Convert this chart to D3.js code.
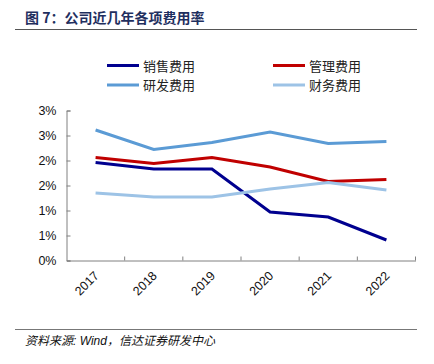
<!DOCTYPE html>
<html><head><meta charset="utf-8">
<script src="https://cdn.jsdelivr.net/npm/d3@7"></script>
<style>body{margin:0;background:#fff}svg{display:block}</style>
</head><body><svg id="c" width="434" height="364"></svg>
<script>
const years = ["2017","2018","2019","2020","2021","2022"];
const sales = [1.96,1.83,1.83,0.97,0.87,0.41];
const admin = [2.06,1.94,2.06,1.87,1.58,1.62];
const rnd = [2.61,2.22,2.36,2.57,2.34,2.38];
const fin = [1.35,1.27,1.27,1.43,1.56,1.41];
const yTicks = [0,0.5,1,1.5,2,2.5,3];
const seriesNames = ["销售费用","管理费用","研发费用","财务费用"];
const colors = ["#00008F","#C00000","#5B9BD5","#9DC3E6"];
const seriesData = [sales, admin, rnd, fin];

const svg = d3.select("#c");
const font = "'Liberation Sans', Arial, 'Noto Sans CJK SC', sans-serif";
const pL = 66.5, pR = 415.5, pT = 110.5, pB = 260.5;

// title
svg.append("text").attr("x",25).attr("y",23).attr("font-family","'Noto Sans CJK SC', sans-serif")
  .attr("font-weight","bold").attr("font-size",14).attr("fill","#1F2F5F").text("图 7：公司近几年各项费用率");
svg.append("line").attr("x1",15).attr("x2",417).attr("y1",29.5).attr("y2",29.5).attr("stroke","#555").attr("stroke-width",1.2);

const x = d3.scaleBand().domain(years).range([pL,pR]);
const y = d3.scaleLinear().domain([0,3]).range([pB,pT]);

// legend
const lg = [[107,65.5],[273,65.5],[107,85],[273,85]];
seriesNames.forEach((n,i)=>{
  const g = svg.append("g").attr("transform",`translate(${lg[i][0]},${lg[i][1]})`);
  g.append("line").attr("x1",0).attr("x2",32).attr("stroke",colors[i]).attr("stroke-width",3);
  g.append("text").attr("x",36).attr("y",5).attr("font-family","'Noto Sans CJK SC', sans-serif")
    .attr("font-size",13).attr("fill","#222").text(n);
});

// y axis
const ya = d3.axisLeft(y).tickValues(yTicks).tickSize(-4).tickPadding(10)
  .tickFormat(d=>d3.format(".0f")(d)+"%");
const yg = svg.append("g").attr("transform",`translate(${pL},0)`).call(ya);
yg.select(".domain").attr("stroke","#808080");
yg.selectAll(".tick line").attr("stroke","#808080");
yg.selectAll("text").attr("font-family",font).attr("font-size",12.5).attr("fill","#111");

// x axis
const xa = d3.axisBottom(x).tickSize(0).tickFormat(d=>d);
const xg = svg.append("g").attr("transform",`translate(0,${pB})`).call(xa);
xg.select(".domain").attr("stroke","#808080");
xg.selectAll(".tick text").attr("font-family",font).attr("font-size",12.5).attr("fill","#111")
  .attr("text-anchor","end").attr("dy",null).attr("y",0)
  .attr("transform",`translate(4,16) rotate(-45)`);
// band boundary ticks
const bounds = years.map(d=>x(d)).slice(1).concat([pR]);
svg.append("g").selectAll("line").data(bounds).join("line")
  .attr("x1",d=>d).attr("x2",d=>d).attr("y1",pB).attr("y2",pB-4).attr("stroke","#808080");

// lines
const line = d3.line().x((d,i)=>x(years[i])+x.bandwidth()/2).y(d=>y(d));
seriesData.forEach((s,i)=>{
  svg.append("path").datum(s).attr("d",line).attr("fill","none").attr("stroke",colors[i])
    .attr("stroke-width",3);
});

// footer
svg.append("line").attr("x1",15).attr("x2",417).attr("y1",329.5).attr("y2",329.5).attr("stroke","#777").attr("stroke-width",1.2);
svg.append("text").attr("x",25).attr("y",345).attr("font-family",font).attr("font-style","italic")
  .attr("font-size",12).attr("fill","#111").text("资料来源: Wind，信达证券研发中心");
</script></body></html>
